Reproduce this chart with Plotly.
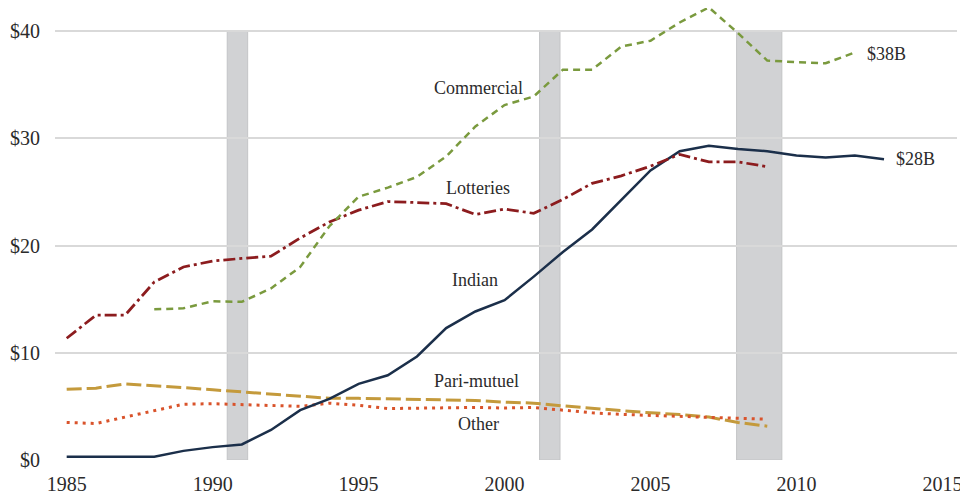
import plotly.graph_objects as go

years = list(range(1985, 2014))

lotteries = [11.35, 13.5, 13.5, 16.6, 18.0, 18.55, 18.8, 19.0, 20.7, 22.2,
             23.3, 24.1, 24.0, 23.9, 22.9, 23.4, 23.0, 24.3, 25.8, 26.5,
             27.4, 28.5, 27.8, 27.8, 27.35]
commercial = [None, None, None, 14.05, 14.15, 14.8, 14.75, 16.0, 18.0, 21.8,
              24.55, 25.4, 26.4, 28.3, 31.1, 33.1, 33.9, 36.4, 36.4, 38.55,
              39.1, 40.8, 42.2, 39.8, 37.25, 37.1, 37.0, 38.0]
indian = [0.3, 0.3, 0.3, 0.3, 0.85, 1.2, 1.45, 2.8, 4.65, 5.7,
          7.1, 7.9, 9.65, 12.3, 13.85, 14.9, 17.1, 19.4, 21.5, 24.25,
          27.0, 28.8, 29.3, 29.0, 28.8, 28.4, 28.2, 28.4, 28.05]
parimutuel = [6.6, 6.7, 7.1, 6.95, 6.75, 6.55, 6.35, 6.15, 5.9, 5.75,
              5.75, 5.7, 5.6, 5.55, 5.55, 5.4, 5.3, 5.05, 4.8, 4.6,
              4.4, 4.25, 4.0, 3.5, 3.15]
other = [3.5, 3.4, 4.0, 4.6, 5.2, 5.25, 5.15, 5.05, 5.0, 5.3,
         5.1, 4.8, 4.85, 4.9, 4.9, 4.85, 4.9, 4.65, 4.4, 4.25,
         4.15, 4.1, 4.0, 3.85, 3.8]

recessions = [(1990.5, 1991.2), (2001.2, 2001.9), (2007.95, 2009.5)]

y_ticks = [0, 10, 20, 30, 40]
y_tick_labels = ["$0", "$10", "$20", "$30", "$40"]
x_ticks = [1985, 1990, 1995, 2000, 2005, 2010, 2015]

series_labels = [
    ("Commercial", 1999.1, 34.7),
    ("Lotteries", 1999.1, 25.4),
    ("Indian", 1999.0, 16.8),
    ("Pari-mutuel", 1999.05, 7.4),
    ("Other", 1999.1, 3.35),
]
end_labels = [("$38B", 2012.35, 37.9), ("$28B", 2013.35, 28.1)]

font_family = "Liberation Serif, Times New Roman, serif"
text_color = "#2b2b2b"

fig = go.Figure()

def add_line(values, color, dash, width):
    xs = years[:len(values)]
    fig.add_trace(go.Scatter(x=xs, y=values, mode="lines",
                             line=dict(color=color, dash=dash, width=width),
                             connectgaps=False, showlegend=False,
                             hoverinfo="skip", cliponaxis=False))

add_line(parimutuel, "#c49a3c", "15px,5px", 3)
add_line(other, "#d9532b", "3px,5px", 3)
add_line(indian, "#1b2f4a", "solid", 2.5)
add_line(lotteries, "#8c1c1e", "12px,4px,3px,4px", 2.75)
add_line(commercial, "#7a9a3e", "7px,5px", 2.5)

for x0, x1 in recessions:
    fig.add_shape(type="rect", x0=x0, x1=x1, y0=0, y1=40, xref="x", yref="y",
                  fillcolor="#d1d2d4", line=dict(color="#c3c4c6", width=1),
                  layer="below")

for txt, x, y in series_labels:
    fig.add_annotation(x=x, y=y, text=txt, showarrow=False, xanchor="center",
                       yanchor="middle",
                       font=dict(family=font_family, size=18, color=text_color))
for txt, x, y in end_labels:
    fig.add_annotation(x=x, y=y, text=txt, showarrow=False, xanchor="left",
                       yanchor="middle",
                       font=dict(family=font_family, size=18, color=text_color))

fig.update_layout(
    width=968, height=496,
    margin=dict(l=47, r=19, t=0, b=44, autoexpand=False),
    paper_bgcolor="white", plot_bgcolor="white",
    font=dict(family=font_family, size=20, color=text_color),
    xaxis=dict(range=[1984.6, 2015.5], tickvals=x_ticks, showgrid=False,
               zeroline=False, showline=False, ticks="", automargin=False,
               ticklabelstandoff=10, tickfont=dict(size=20)),
    yaxis=dict(range=[0, 42.15], tickvals=y_ticks, ticktext=y_tick_labels,
               showgrid=True, gridcolor="#d9d9d9", gridwidth=1.5,
               zeroline=False, showline=False, ticks="", ticklabelstandoff=14,
               automargin=False, tickfont=dict(size=20)),
)

fig.write_html("out.html")
